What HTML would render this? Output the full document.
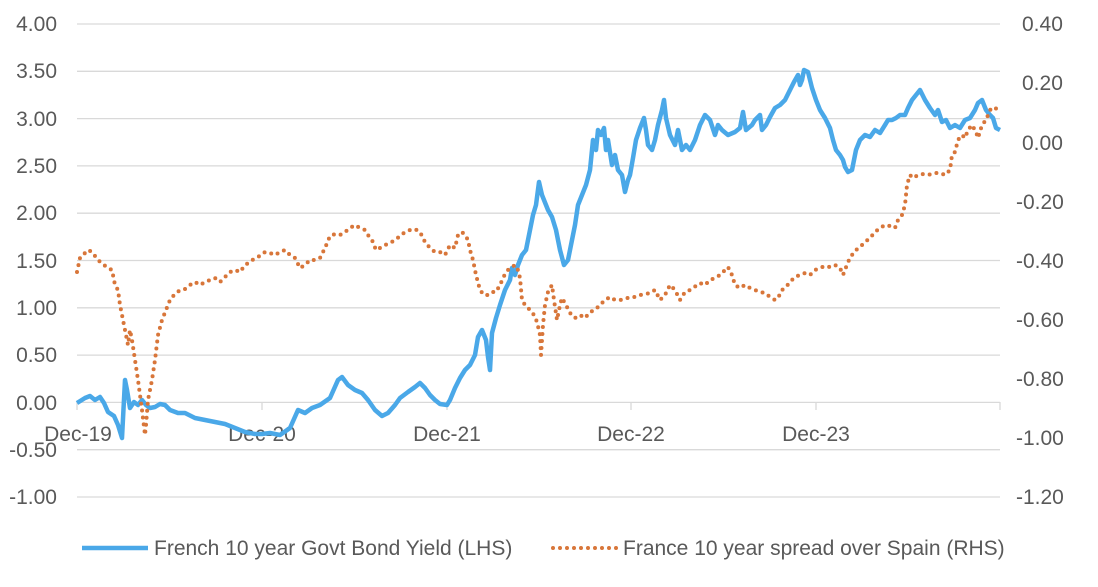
<!DOCTYPE html>
<html><head><meta charset="utf-8"><style>
body{margin:0;background:#fff;}
svg text{font-family:"Liberation Sans",sans-serif;font-size:21px;fill:#595959;}
</style></head><body>
<svg width="1098" height="582" xmlns="http://www.w3.org/2000/svg">
<g stroke="#d9d9d9" stroke-width="1.3">
<line x1="77" x2="1000" y1="24" y2="24"/><line x1="77" x2="1000" y1="71.3" y2="71.3"/>
<line x1="77" x2="1000" y1="118.6" y2="118.6"/><line x1="77" x2="1000" y1="165.9" y2="165.9"/>
<line x1="77" x2="1000" y1="213.2" y2="213.2"/><line x1="77" x2="1000" y1="260.5" y2="260.5"/>
<line x1="77" x2="1000" y1="307.8" y2="307.8"/><line x1="77" x2="1000" y1="355.1" y2="355.1"/>
<line x1="77" x2="1000" y1="402.4" y2="402.4"/><line x1="77" x2="1000" y1="449.7" y2="449.7"/>
<line x1="77" x2="1000" y1="497" y2="497"/>
<line x1="77" x2="77" y1="402" y2="410"/><line x1="262" x2="262" y1="402" y2="410"/>
<line x1="447" x2="447" y1="402" y2="410"/><line x1="631" x2="631" y1="402" y2="410"/>
<line x1="816" x2="816" y1="402" y2="410"/><line x1="1000" x2="1000" y1="402" y2="410"/>
</g>
<g text-anchor="end">
<text x="57" y="31">4.00</text><text x="57" y="78">3.50</text><text x="57" y="126">3.00</text>
<text x="57" y="173">2.50</text><text x="57" y="220">2.00</text><text x="57" y="268">1.50</text>
<text x="57" y="315">1.00</text><text x="57" y="362">0.50</text><text x="57" y="410">0.00</text>
<text x="57" y="457">-0.50</text><text x="57" y="504">-1.00</text>
</g>
<g>
<text x="1022" y="31">0.40</text><text x="1022" y="90">0.20</text><text x="1022" y="150">0.00</text>
<text x="1016" y="209">-0.20</text><text x="1016" y="268">-0.40</text><text x="1016" y="327">-0.60</text>
<text x="1016" y="386">-0.80</text><text x="1016" y="445">-1.00</text><text x="1016" y="504">-1.20</text>
</g>
<g text-anchor="middle">
<text x="78" y="441">Dec-19</text><text x="262" y="441">Dec-20</text><text x="447" y="441">Dec-21</text>
<text x="631" y="441">Dec-22</text><text x="816" y="441">Dec-23</text>
</g>
<polyline fill="none" stroke="#4aa8e8" stroke-width="4.5" stroke-linejoin="round" points="77,403 85,398 90,396 95,400 100,397 104,403 108,412 114,416 118,425 122,438 125,380 127,390 130,408 134,402 138,405 142,400 146,405 150,408 155,407 160,404 165,405 170,410 178,413 185,413 195,418 205,420 215,422 225,424 235,428 245,432 255,434 262,434 270,433 280,435 290,428 298,410 305,413 312,408 320,405 330,398 338,380 342,377 348,385 355,390 362,393 368,400 375,410 382,416 388,413 395,405 400,398 408,392 415,387 420,383 425,388 430,395 435,400 440,404 447,405 450,400 455,388 460,378 465,370 470,365 475,355 478,337 482,330 486,340 488,357 490,370 492,333 496,318 500,305 505,290 510,280 512,268 515,275 518,265 522,255 526,250 528,240 530,230 533,215 536,205 539,182 542,195 544,200 548,210 552,217 556,230 560,250 564,265 568,260 570,250 575,225 578,205 582,195 586,185 590,170 593,140 596,150 598,130 601,135 604,128 606,150 608,140 612,165 615,155 618,170 622,175 625,192 628,180 630,175 633,158 636,140 640,128 644,118 646,130 648,145 652,150 655,140 658,125 662,110 664,100 666,118 670,135 675,145 678,130 682,150 686,145 690,150 695,140 700,125 705,115 710,120 715,135 718,125 722,130 728,135 735,132 740,128 743,112 746,130 752,125 755,120 760,115 762,130 766,125 770,117 775,108 780,105 785,100 790,90 794,82 798,75 800,85 802,80 804,70 808,72 812,88 816,100 820,110 825,118 830,128 833,140 836,150 840,155 843,160 845,167 848,172 852,170 856,150 860,140 865,135 870,137 875,130 880,133 885,125 888,120 892,120 896,118 900,115 905,115 908,108 912,100 916,95 920,90 925,100 930,108 935,115 938,110 942,122 946,120 950,128 955,125 960,128 965,120 970,118 975,110 978,103 982,100 986,110 990,115 993,118 996,128 1000,130"/>
<polyline fill="none" stroke="#d8763a" stroke-width="4" stroke-linecap="round" stroke-dasharray="0 7" points="77,272 80,258 88,250 92,252 98,260 104,265 108,268 112,270 115,285 118,290 120,305 122,315 124,325 126,335 128,345 130,330 132,340 135,360 138,380 140,395 142,410 145,435 146,425 148,400 152,380 155,360 158,335 162,320 166,310 170,300 174,295 180,290 185,289 190,285 195,282 200,285 205,282 210,280 215,278 220,282 225,277 230,272 235,270 240,272 245,265 250,262 255,258 260,256 265,252 270,253 275,255 280,252 285,250 290,255 295,258 300,268 305,265 310,260 315,260 320,258 325,248 330,236 335,234 340,235 345,232 350,228 355,225 360,228 365,230 368,235 372,240 376,250 380,248 385,245 390,243 395,240 400,236 405,232 410,230 415,229 420,232 425,242 430,248 435,252 440,252 445,255 450,245 455,248 458,235 462,232 465,235 468,240 470,250 473,260 476,275 480,290 484,295 488,295 492,292 496,292 500,285 504,276 508,270 512,267 515,265 518,270 520,278 522,300 525,305 530,310 534,315 537,322 540,335 541,355 543,325 545,305 548,292 552,285 554,300 557,320 560,305 562,298 566,305 570,313 575,318 580,315 585,318 590,312 595,310 600,305 605,300 610,297 615,300 620,300 625,299 630,297 635,297 640,295 650,293 655,290 660,300 665,295 670,285 675,290 680,300 685,292 690,290 700,283 705,285 710,280 715,278 720,275 725,270 728,267 732,275 735,285 740,288 745,285 750,288 755,290 760,292 765,293 770,297 775,300 778,298 782,290 786,287 790,282 795,277 800,275 805,273 810,275 815,270 820,268 825,266 830,267 835,265 840,268 843,275 845,270 848,262 852,255 856,250 860,247 865,242 870,238 875,232 880,228 885,225 890,226 895,228 898,220 902,215 905,205 907,185 910,175 913,178 918,175 922,174 928,175 935,173 940,173 945,175 950,170 952,155 955,152 958,140 962,135 965,138 968,130 972,125 976,132 978,138 982,125 986,120 990,110 994,107 998,110 1000,110"/>
<line x1="82" x2="148" y1="548" y2="548" stroke="#4aa8e8" stroke-width="4.5"/>
<text x="154" y="555">French 10 year Govt Bond Yield (LHS)</text>
<line x1="553" x2="618" y1="548" y2="548" stroke="#d8763a" stroke-width="4" stroke-linecap="round" stroke-dasharray="0 7"/>
<text x="623" y="555">France 10 year spread over Spain (RHS)</text>
</svg>
</body></html>
